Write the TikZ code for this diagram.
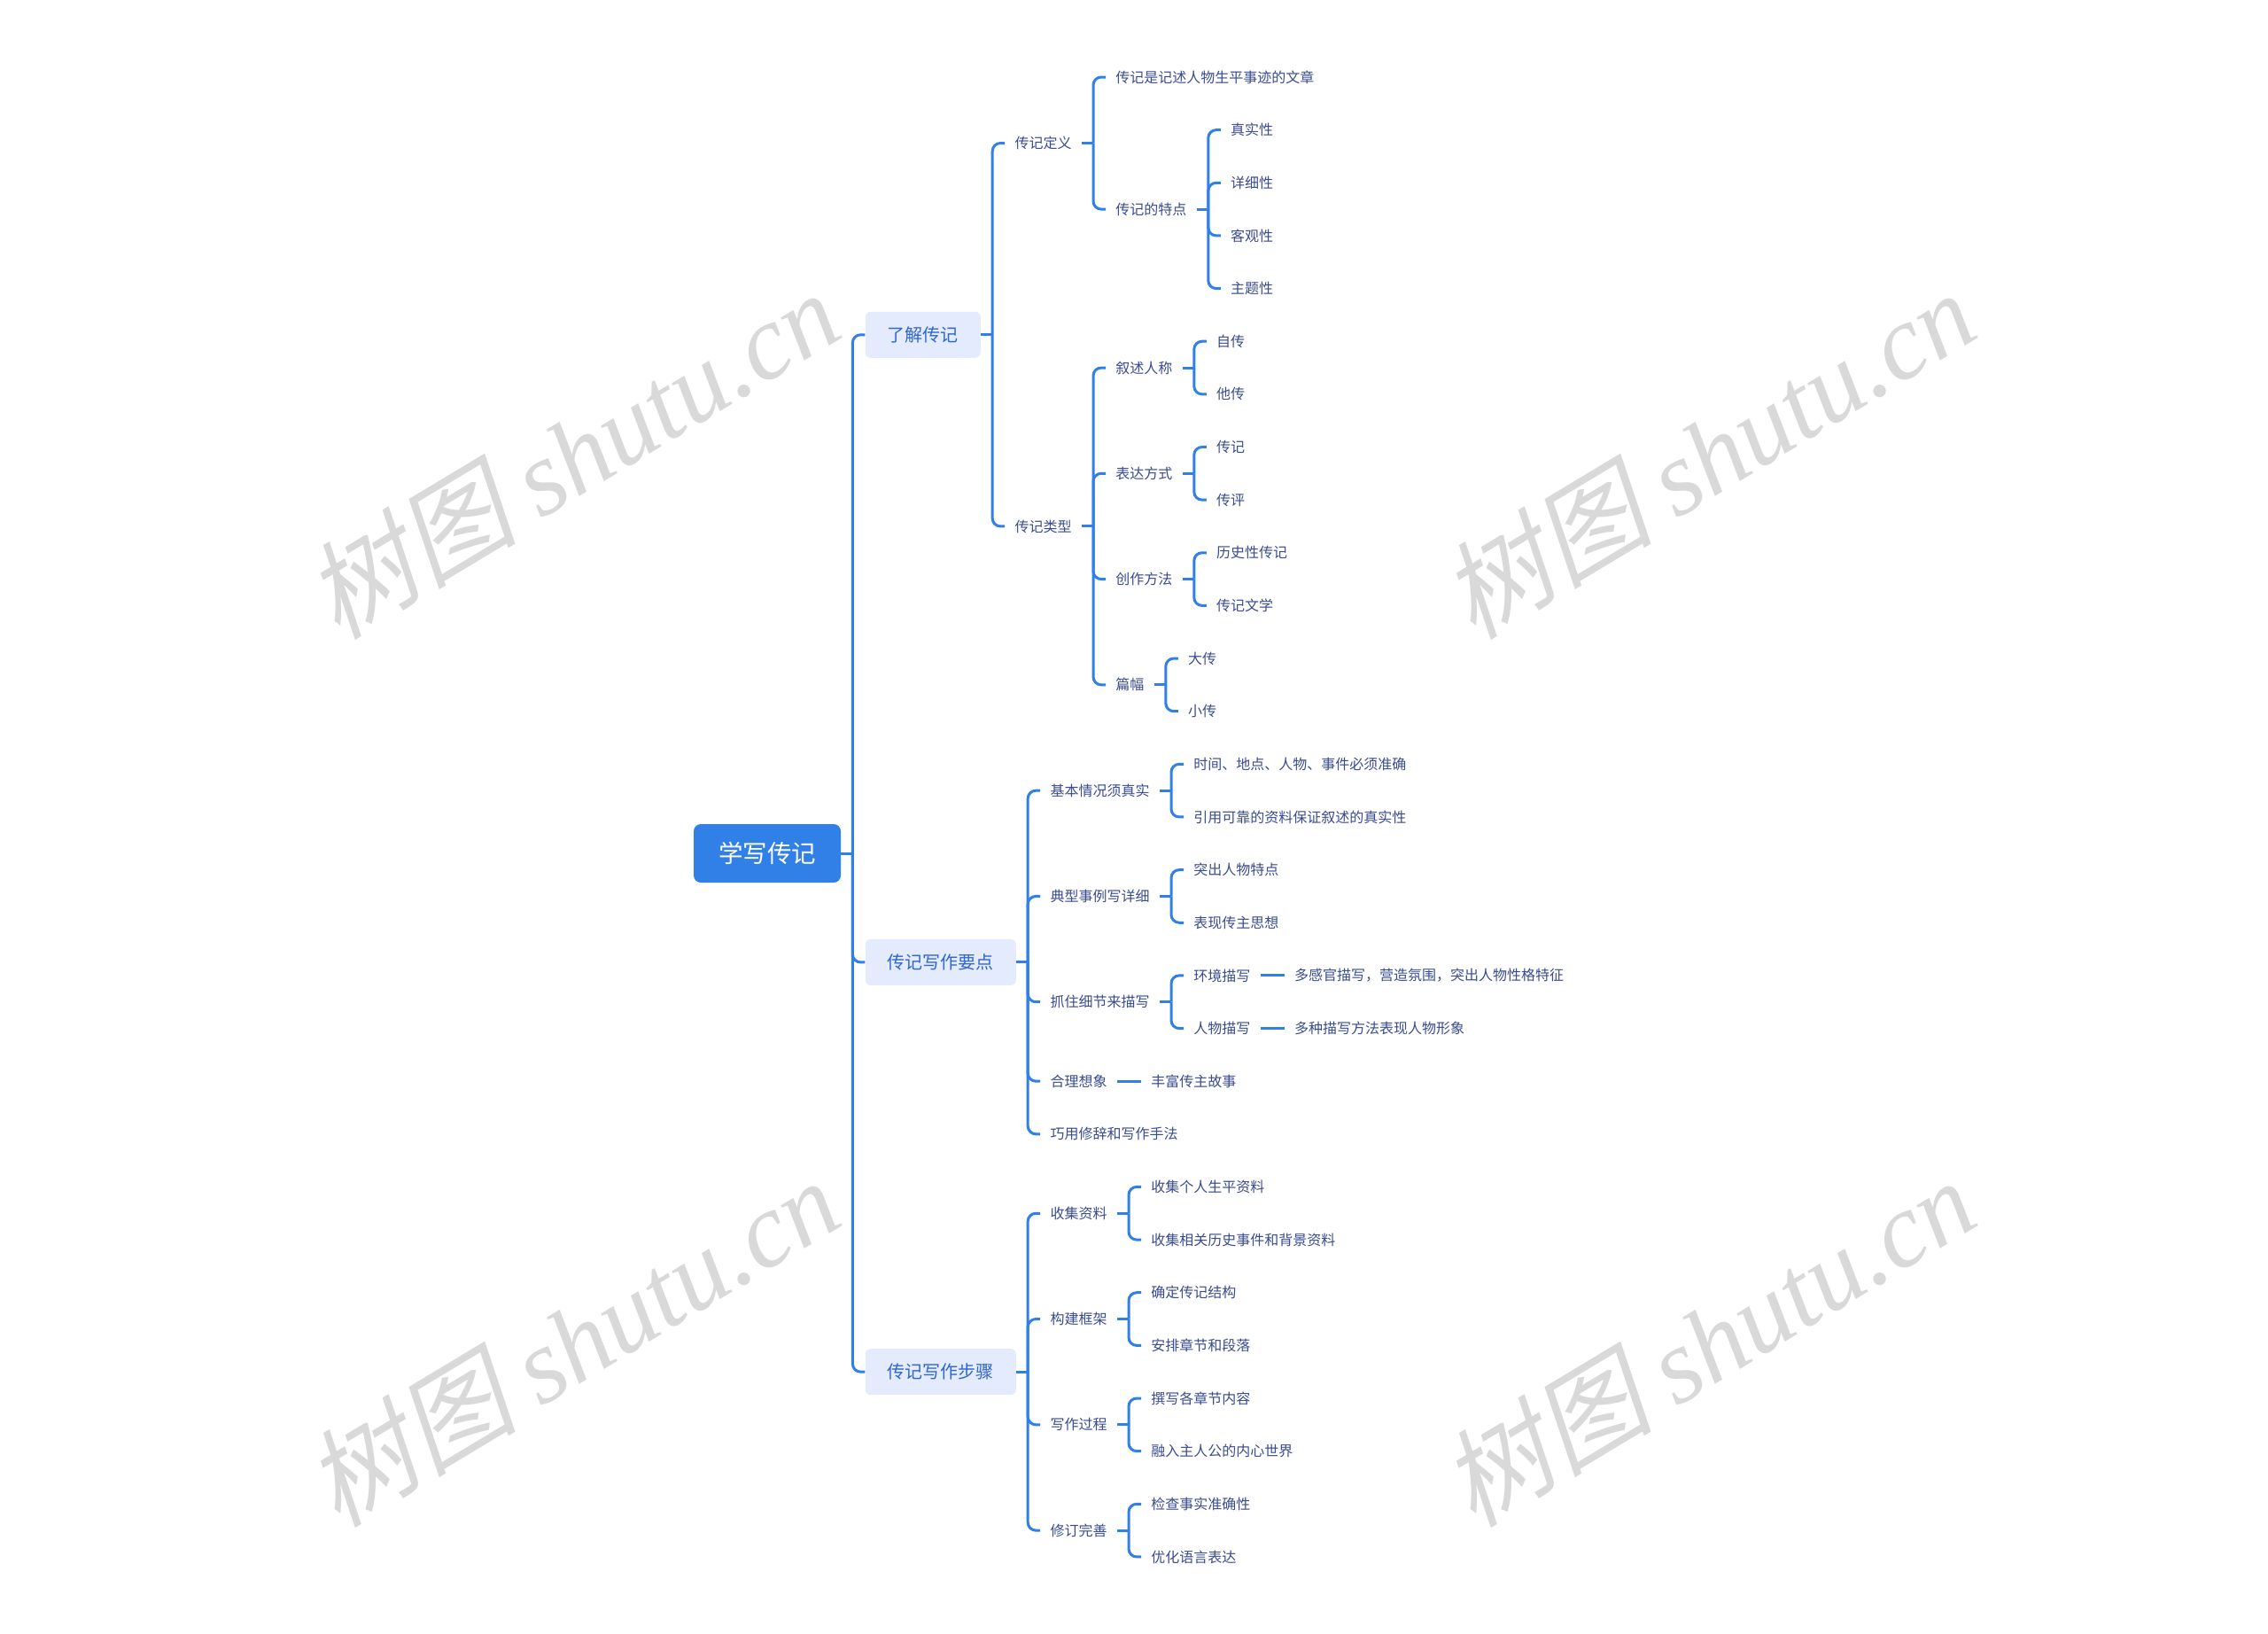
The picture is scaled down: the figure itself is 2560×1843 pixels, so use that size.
\documentclass[tikz,border=0pt]{standalone}
\usepackage{fontspec}
\setmainfont{Noto Sans CJK SC}
\newfontfamily\wmcjk[FakeSlant=0.22]{Noto Sans CJK SC}
\newfontfamily\wmlat{Liberation Serif}
\usetikzlibrary{calc}
\definecolor{lineblue}{HTML}{3080E8}
\definecolor{rootblue}{HTML}{3080E8}
\definecolor{subfill}{HTML}{E3EBFD}
\definecolor{subtext}{HTML}{2F66D0}
\definecolor{leaftext}{HTML}{3A4C8F}
\definecolor{wmgray}{HTML}{D9D9D9}
\newcommand\RowY[1]{87+59.64*#1}
\newcommand\kid[5][leaf]{\path (#2.east) ++(27,0) coordinate (#3-x);
  \node[#1, anchor=west] (#3) at (#3-x |- 0,{\RowY{#4}}) {#5};}
\newcommand\spine[1]{\draw[conn] (#1.east) -- ++(13,0) coordinate (#1-s);}
\newcommand\link[2]{\draw[conn] (#1-s) |- (#2.west);}
\begin{document}
\begin{tikzpicture}[x=0.5pt,y=-0.5pt,
 conn/.style={draw=lineblue, line width=1.5pt, rounded corners=4.5pt},
 rootbox/.style={fill=rootblue, rounded corners=4pt, text=white, font=\fontsize{13.75}{16}\selectfont, inner xsep=14pt, minimum height=33pt},
 subbox/.style={fill=subfill, rounded corners=3pt, text=subtext, font=\fontsize{10}{12}\selectfont, inner xsep=12.5pt, minimum height=26pt},
 leaf/.style={text=leaftext, font=\fontsize{8}{10}\selectfont, inner xsep=5.5pt, inner ysep=2pt},
 wm/.style={text=wmgray, rotate=31, font=\fontsize{60}{64}\selectfont}
]
\fill[white] (0,0) rectangle (2560,1843);
\useasboundingbox (0,0) rectangle (2560,1843);
% watermarks
\node[wm] (wm1) at (645,512) {{\wmcjk 树图} {\wmlat\itshape shutu.cn}};
\node[wm] (wm2) at (1927,512) {{\wmcjk 树图} {\wmlat\itshape shutu.cn}};
\node[wm] (wm3) at (645,1514) {{\wmcjk 树图} {\wmlat\itshape shutu.cn}};
\node[wm] (wm4) at (1927,1514) {{\wmcjk 树图} {\wmlat\itshape shutu.cn}};
% root
\node[rootbox] (root) at (866,963) {学写传记};
\kid[subbox]{root}{A}{4.875}{了解传记}
\kid[subbox]{root}{B}{16.75}{传记写作要点}
\kid[subbox]{root}{C}{24.5}{传记写作步骤}
% A
\kid{A}{A1}{1.25}{传记定义}
\kid{A}{A2}{8.5}{传记类型}
\kid{A1}{A11}{0}{传记是记述人物生平事迹的文章}
\kid{A1}{A12}{2.5}{传记的特点}
\kid{A12}{A121}{1}{真实性}
\kid{A12}{A122}{2}{详细性}
\kid{A12}{A123}{3}{客观性}
\kid{A12}{A124}{4}{主题性}
\kid{A2}{A21}{5.5}{叙述人称}
\kid{A2}{A22}{7.5}{表达方式}
\kid{A2}{A23}{9.5}{创作方法}
\kid{A2}{A24}{11.5}{篇幅}
\kid{A21}{A211}{5}{自传}
\kid{A21}{A212}{6}{他传}
\kid{A22}{A221}{7}{传记}
\kid{A22}{A222}{8}{传评}
\kid{A23}{A231}{9}{历史性传记}
\kid{A23}{A232}{10}{传记文学}
\kid{A24}{A241}{11}{大传}
\kid{A24}{A242}{12}{小传}
% B
\kid{B}{B1}{13.5}{基本情况须真实}
\kid{B}{B2}{15.5}{典型事例写详细}
\kid{B}{B3}{17.5}{抓住细节来描写}
\kid{B}{B4}{19}{合理想象}
\kid{B}{B5}{20}{巧用修辞和写作手法}
\kid{B1}{B11}{13}{时间、地点、人物、事件必须准确}
\kid{B1}{B12}{14}{引用可靠的资料保证叙述的真实性}
\kid{B2}{B21}{15}{突出人物特点}
\kid{B2}{B22}{16}{表现传主思想}
\kid{B3}{B31}{17}{环境描写}
\kid{B3}{B32}{18}{人物描写}
\kid{B31}{B311}{17}{多感官描写，营造氛围，突出人物性格特征}
\kid{B32}{B321}{18}{多种描写方法表现人物形象}
\kid{B4}{B41}{19}{丰富传主故事}
% C
\kid{C}{C1}{21.5}{收集资料}
\kid{C}{C2}{23.5}{构建框架}
\kid{C}{C3}{25.5}{写作过程}
\kid{C}{C4}{27.5}{修订完善}
\kid{C1}{C11}{21}{收集个人生平资料}
\kid{C1}{C12}{22}{收集相关历史事件和背景资料}
\kid{C2}{C21}{23}{确定传记结构}
\kid{C2}{C22}{24}{安排章节和段落}
\kid{C3}{C31}{25}{撰写各章节内容}
\kid{C3}{C32}{26}{融入主人公的内心世界}
\kid{C4}{C41}{27}{检查事实准确性}
\kid{C4}{C42}{28}{优化语言表达}
% connectors
\spine{root} \link{root}{A} \link{root}{B} \link{root}{C}
\spine{A} \link{A}{A1} \link{A}{A2}
\spine{A1} \link{A1}{A11} \link{A1}{A12}
\spine{A12} \link{A12}{A121} \link{A12}{A122} \link{A12}{A123} \link{A12}{A124}
\spine{A2} \link{A2}{A21} \link{A2}{A22} \link{A2}{A23} \link{A2}{A24}
\spine{A21} \link{A21}{A211} \link{A21}{A212}
\spine{A22} \link{A22}{A221} \link{A22}{A222}
\spine{A23} \link{A23}{A231} \link{A23}{A232}
\spine{A24} \link{A24}{A241} \link{A24}{A242}
\spine{B} \link{B}{B1} \link{B}{B2} \link{B}{B3} \link{B}{B4} \link{B}{B5}
\spine{B1} \link{B1}{B11} \link{B1}{B12}
\spine{B2} \link{B2}{B21} \link{B2}{B22}
\spine{B3} \link{B3}{B31} \link{B3}{B32}
\draw[conn] (B31.east) -- (B311.west);
\draw[conn] (B32.east) -- (B321.west);
\draw[conn] (B4.east) -- (B41.west);
\spine{C} \link{C}{C1} \link{C}{C2} \link{C}{C3} \link{C}{C4}
\spine{C1} \link{C1}{C11} \link{C1}{C12}
\spine{C2} \link{C2}{C21} \link{C2}{C22}
\spine{C3} \link{C3}{C31} \link{C3}{C32}
\spine{C4} \link{C4}{C41} \link{C4}{C42}
\end{tikzpicture}
\end{document}
